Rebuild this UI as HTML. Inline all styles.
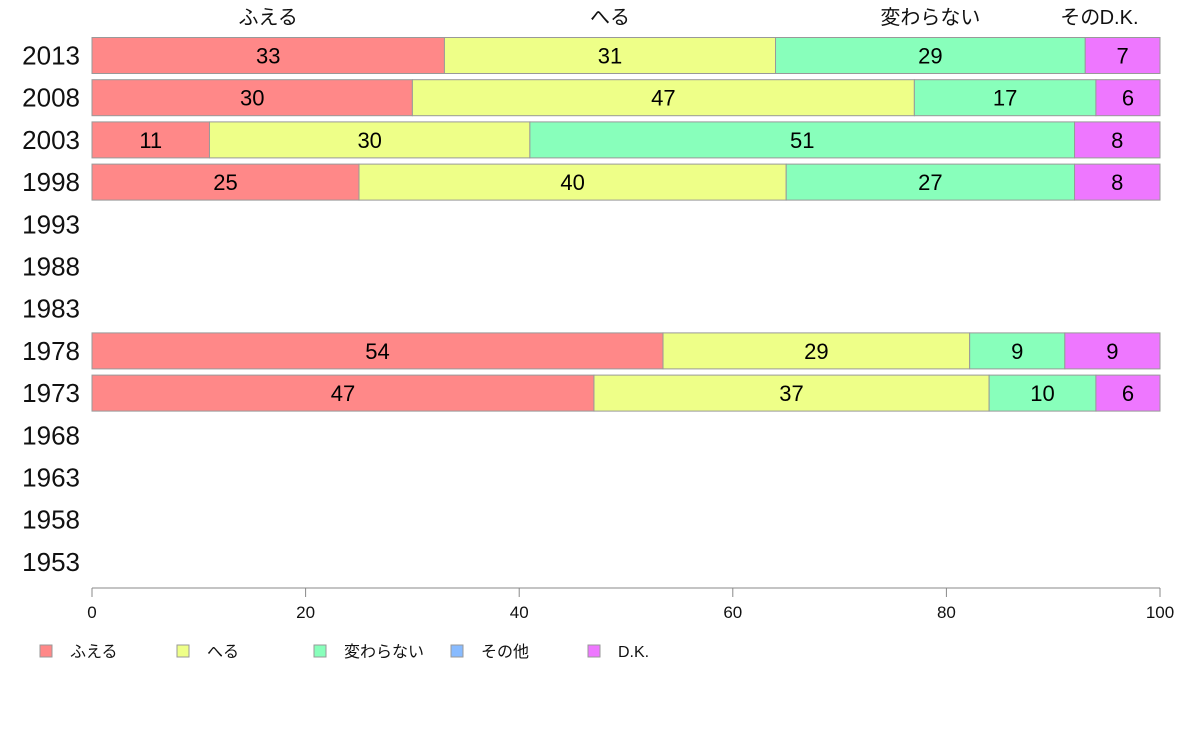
<!DOCTYPE html>
<html><head><meta charset="utf-8"><style>
body{margin:0;background:#fff;}
svg{display:block;font-family:"Liberation Sans","Noto Sans CJK JP",sans-serif;}
</style></head><body>
<svg id="chart" width="1188" height="736"></svg>
<script>
const years=["2013","2008","2003","1998","1993","1988","1983","1978","1973","1968","1963","1958","1953"];
const seriesNames=["ふえる","へる","変わらない","その他","D.K."];
const fueru=[33,30,11,25,null,null,null,54,47,null,null,null,null];
const heru=[31,47,30,40,null,null,null,29,37,null,null,null,null];
const kawaranai=[29,17,51,27,null,null,null,9,10,null,null,null,null];
const sonota=[0,0,0,0,null,null,null,0,0,null,null,null,null];
const dk=[7,6,8,8,null,null,null,9,6,null,null,null,null];
const xTicks=[0,20,40,60,80,100];
const colors=["#ff8888","#eeff88","#88ffbb","#88bbff","#ee77ff"];
const series=[fueru,heru,kawaranai,sonota,dk];
const NS="http://www.w3.org/2000/svg";
const svg=document.getElementById('chart');
const x=v=>92+v*(1160-92)/100;
const y=i=>55.5+i*42.2;
const bh=36;
function mk(t,a,p){const e=document.createElementNS(NS,t);for(const k in a)e.setAttribute(k,a[k]);(p||svg).appendChild(e);return e;}
years.forEach((yr,i)=>{
  const t=mk('text',{x:80,y:y(i)+9,'text-anchor':'end','font-size':26,fill:'#111'});
  t.textContent=yr;
  
  
  if(fueru[i]==null)return;
  const total=series.reduce((s,a)=>s+a[i],0);
  let acc=0;
  series.forEach((arr,k)=>{
    const v=arr[i]*100/total;
    if(arr[i]>0){
      const r=mk('rect',{x:x(acc),y:y(i)-bh/2,width:x(acc+v)-x(acc),height:bh,fill:colors[k],stroke:'#999','stroke-width':1});
      
      
      const l=mk('text',{x:(x(acc)+x(acc+v))/2,y:y(i)+8,'text-anchor':'middle','font-size':22,fill:'#000'});
      l.textContent=arr[i];
      
      
    }
    acc+=v;
  });
});
// top category labels from first row
{
  const total=series.reduce((s,a)=>s+a[0],0);let acc=0;
  series.forEach((arr,k)=>{const v=arr[0]*100/total;
    let cx=x(acc+v/2);
    const t=mk('text',{x:cx,y:24,'text-anchor':k==3?'end':(k==4?'start':'middle'),'font-size':20,fill:'#111'});
    if(k==3){t.setAttribute('x',cx+15);t.textContent='その';}
    else if(k==4){t.setAttribute('x',cx-23);t.textContent='D.K.';}
    else t.textContent=seriesNames[k];
    
    
    acc+=v;});
}
// x axis
const ax=mk('line',{x1:x(0),x2:x(100),y1:588,y2:588,stroke:'#888'});


xTicks.forEach(v=>{
  mk('line',{x1:x(v),x2:x(v),y1:588,y2:597,stroke:'#888'});
  const t=mk('text',{x:x(v),y:618,'text-anchor':'middle','font-size':17,fill:'#111'});
  t.textContent=v;
  
  
});
// legend
const lx=[40,177,314,451,588];
seriesNames.forEach((n,k)=>{
  const g=mk('g',{});
  
  
  mk('rect',{x:lx[k],y:645,width:12,height:12,fill:colors[k],stroke:'#999'},g);
  const t=mk('text',{x:lx[k]+30,y:657,'font-size':16,fill:'#111'},g);
  t.textContent=n;
});
</script>
</body></html>
